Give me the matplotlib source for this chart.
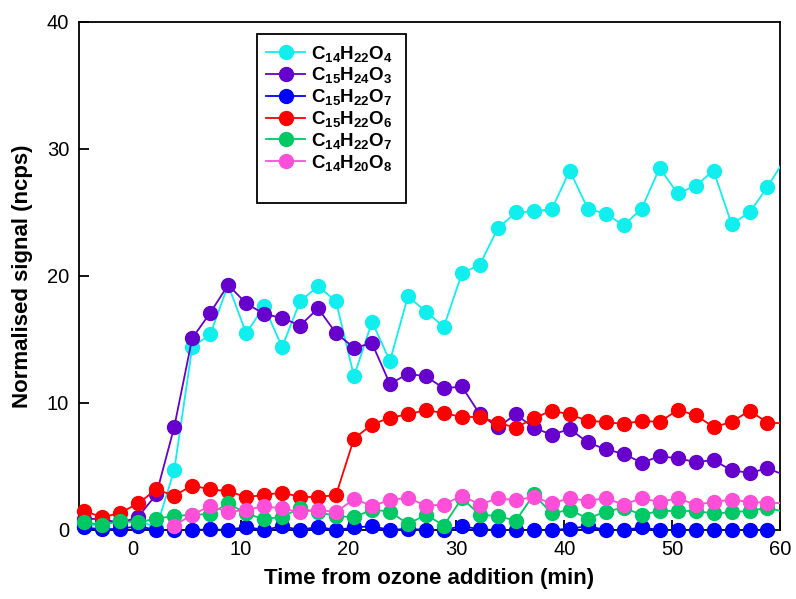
import matplotlib
matplotlib.use("Agg")
import matplotlib.pyplot as plt
from matplotlib.patches import Rectangle
import numpy as np

plt.rcParams['font.family'] = ['Liberation Sans', 'DejaVu Sans']
plt.rcParams['mathtext.fontset'] = 'custom'
plt.rcParams['mathtext.rm'] = 'Liberation Sans:bold'
plt.rcParams['mathtext.bf'] = 'Liberation Sans:bold'
plt.rcParams['mathtext.it'] = 'Liberation Sans:bold'

# time axis (min), one point every ~100 s
time_min = [-4.5, -2.83, -1.17, 0.5, 2.17, 3.83, 5.5, 7.17, 8.83, 10.5,
            12.17, 13.83, 15.5, 17.17, 18.83, 20.5, 22.17, 23.83, 25.5, 27.17,
            28.83, 30.5, 32.17, 33.83, 35.5, 37.17, 38.83, 40.5, 42.17, 43.83,
            45.5, 47.17, 48.83, 50.5, 52.17, 53.83, 55.5, 57.17, 58.83, 60.5]

c14h22o4 = [0.3, 0.5, 0.8, 0.8, 0.15, 4.7, 14.4, 15.4, 19.3, 15.5,
            17.6, 14.4, 18.0, 19.2, 18.0, 12.1, 16.4, 13.3, 18.4, 17.2,
            16.0, 20.2, 20.9, 23.75, 25.0, 25.1, 25.25, 28.3, 25.3, 24.9,
            24.0, 25.3, 28.5, 26.5, 27.1, 28.3, 24.1, 25.0, 27.0, 29.3]
c15h24o3 = [0.85, 0.9, 0.5, 1.05, 2.8, 8.1, 15.1, 17.1, 19.3, 17.85,
            17.0, 16.7, 16.1, 17.45, 15.5, 14.35, 14.7, 11.5, 12.3, 12.1,
            11.15, 11.3, 9.1, 8.1, 9.1, 8.05, 7.5, 7.95, 6.9, 6.35,
            6.0, 5.3, 5.8, 5.65, 5.35, 5.5, 4.7, 4.5, 4.85, 4.3]
c15h22o7 = [0.2, 0.05, 0.1, 0.3, 0.0, 0.0, 0.0, 0.05, 0.0, 0.25,
            0.0, 0.3, 0.0, 0.25, 0.0, 0.2, 0.3, 0.0, 0.1, 0.0,
            0.0, 0.3, 0.05, 0.0, 0.0, 0.0, 0.0, 0.1, 0.3, 0.0,
            0.0, 0.2, 0.0, 0.0, 0.0, 0.0, 0.0, 0.0, 0.0, 0.0]
c15h22o6 = [1.5, 1.0, 1.35, 2.1, 3.2, 2.7, 3.5, 3.2, 3.05, 2.6,
            2.75, 2.95, 2.6, 2.6, 2.75, 7.2, 8.3, 8.85, 9.1, 9.45,
            9.2, 8.9, 8.9, 8.45, 8.05, 8.8, 9.4, 9.1, 8.6, 8.5,
            8.35, 8.6, 8.5, 9.45, 9.05, 8.1, 8.5, 9.4, 8.45, 8.4]
c14h22o7 = [0.6, 0.4, 0.7, 0.6, 0.9, 1.1, 1.2, 1.25, 2.1, 1.3,
            0.85, 1.05, 1.7, 1.4, 1.1, 1.0, 1.6, 1.45, 0.47, 1.2,
            0.35, 2.5, 1.2, 1.1, 0.73, 2.8, 1.3, 1.6, 0.9, 1.45,
            1.75, 1.2, 1.5, 1.5, 1.5, 1.3, 1.4, 1.5, 1.75, 1.4]
c14h20o8 = [np.nan, np.nan, np.nan, np.nan, np.nan, 0.35, 1.2, 1.9, 1.4, 1.6,
            1.85, 1.7, 1.4, 1.6, 1.4, 2.45, 1.9, 2.35, 2.55, 1.9,
            2.0, 2.7, 2.0, 2.5, 2.35, 2.6, 2.1, 2.5, 2.3, 2.5,
            2.0, 2.5, 2.2, 2.5, 2.0, 2.2, 2.4, 2.2, 2.15, 2.1]

labels = [r'C$_{14}$H$_{22}$O$_{4}$', r'C$_{15}$H$_{24}$O$_{3}$', r'C$_{15}$H$_{22}$O$_{7}$',
          r'C$_{15}$H$_{22}$O$_{6}$', r'C$_{14}$H$_{22}$O$_{7}$', r'C$_{14}$H$_{20}$O$_{8}$']
colours = ['#11EEEE', '#6600CC', '#0000FF', '#FF0000', '#00C864', '#FF4FD8']
series = [c14h22o4, c15h24o3, c15h22o7, c15h22o6, c14h22o7, c14h20o8]

fig = plt.figure(figsize=(7.96, 5.99), dpi=100)
ax = fig.add_axes([0.0992, 0.1152, 0.8808, 0.8481])

t = np.array(time_min)
inside = t <= 60
handles = []
for ys, lab, col in zip(series, labels, colours):
    ys = np.array(ys)
    ax.plot(t, ys, '-', color=col, lw=1.3)
    # markers are not clipped at the axis frame (as in the original figure)
    ax.plot(t[inside], ys[inside], 'o', color=col, ms=10, clip_on=False)
    handles.append(plt.Line2D([], [], color=col, lw=1.3, marker='o', ms=10, label=lab))

ax.set_xlim(-5, 60)
ax.set_ylim(0, 40)
ax.set_xticks([0, 10, 20, 30, 40, 50, 60])
ax.set_yticks([0, 10, 20, 30, 40])
ax.tick_params(direction='in', length=7, width=1.3, labelsize=14.5, pad=7)
for s in ax.spines.values():
    s.set_linewidth(1.3)
    s.set_zorder(0.5)

ax.set_xlabel('Time from ozone addition (min)', fontsize=16, fontweight='bold', labelpad=7)
ax.set_ylabel('Normalised signal (ncps)', fontsize=16, fontweight='bold', labelpad=10)

# legend box in the original has extra room below the last entry
box = Rectangle((0.2535, 0.644), 0.2125, 0.332, transform=ax.transAxes,
                facecolor='white', edgecolor='black', lw=1.3, zorder=4.9)
ax.add_patch(box)
leg = ax.legend(handles=handles, loc='upper left', bbox_to_anchor=(0.2535, 0.976), borderaxespad=0,
                frameon=False, prop={'size': 13.5, 'weight': 'bold'},
                handlelength=2.1, labelspacing=0.1, borderpad=0.5, handletextpad=0.3)

fig.savefig('out.png', dpi=100)
